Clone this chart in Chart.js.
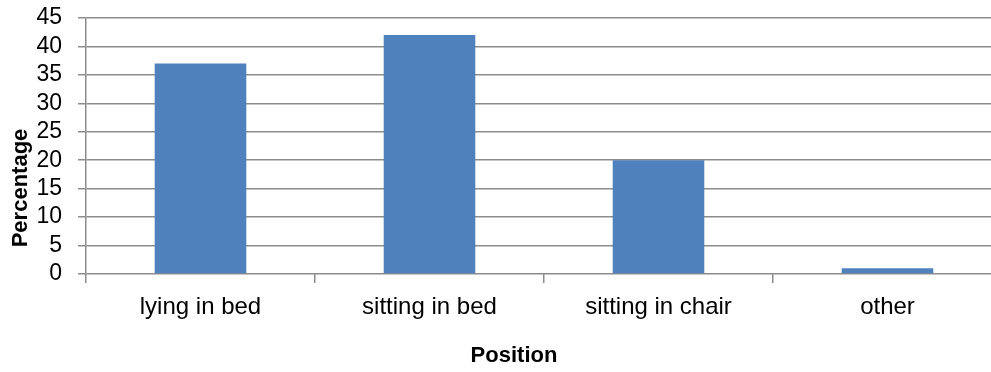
<!DOCTYPE html>
<html>
<head>
<meta charset="utf-8">
<script src="https://cdn.jsdelivr.net/npm/chart.js@4/dist/chart.umd.min.js"></script>
<style>
  html, body { margin: 0; padding: 0; overflow: hidden; background: #fff; }
  #wrap { width: 1002px; height: 372px; }
</style>
</head>
<body>
<div id="wrap"><canvas id="c" width="1002" height="372"></canvas></div>
<script>
// Share of observations by patient position
const categories = ['lying in bed', 'sitting in bed', 'sitting in chair', 'other'];
const percentages = [37, 42, 20, 1];
const yTicks = [0, 5, 10, 15, 20, 25, 30, 35, 40, 45];

const FONT = '"Liberation Sans Narrow", "Arial Narrow", "Liberation Sans", Arial, sans-serif';
const GRID = '#8c8c8c';

// Axis titles placed by hand so they sit where the layout wants them
const axisTitles = {
  id: 'axisTitles',
  afterDraw(chart) {
    const ctx = chart.ctx;
    ctx.save();
    ctx.fillStyle = '#000';
    ctx.font = 'bold 22px ' + FONT;
    ctx.textAlign = 'center';
    ctx.textBaseline = 'middle';
    ctx.fillText('Position', 514, 356);
    ctx.translate(21, 188);
    ctx.rotate(-Math.PI / 2);
    ctx.fillText('Percentage', 0, 0);
    ctx.restore();
  }
};

new Chart(document.getElementById('c'), {
  type: 'bar',
  data: {
    labels: categories,
    datasets: [{
      data: percentages,
      backgroundColor: '#4f81bd',
      borderWidth: 0,
      barPercentage: 0.4,
      categoryPercentage: 1.0
    }]
  },
  options: {
    responsive: false,
    animation: false,
    layout: { padding: { top: 18, right: 0, bottom: 0, left: 0 } },
    plugins: { legend: { display: false }, tooltip: { enabled: false } },
    scales: {
      x: {
        offset: true,
        grid: {
          offset: true,
          drawOnChartArea: false,
          drawTicks: true,
          tickLength: 9,
          color: GRID,
          lineWidth: 1.5
        },
        border: { display: false },
        ticks: {
          color: '#000',
          font: { family: FONT, size: 24 },
          padding: 10,
          maxRotation: 0
        },
        afterFit(scale) {
          scale.height = 98;
          scale.paddingLeft = 0;
          scale.paddingRight = 0;
        }
      },
      y: {
        min: 0,
        max: 45,
        afterBuildTicks(scale) { scale.ticks = yTicks.map(v => ({ value: v })); },
        grid: {
          color: GRID,
          lineWidth: 1.5,
          drawTicks: true,
          tickLength: 8
        },
        border: { display: true, color: GRID, width: 1.5 },
        ticks: {
          color: '#000',
          font: { family: FONT, size: 23 },
          padding: 16,
          autoSkip: false
        },
        afterFit(scale) {
          scale.width = 86;
          scale.paddingTop = 0;
          scale.paddingBottom = 0;
        }
      }
    }
  },
  plugins: [axisTitles]
});
</script>
</body>
</html>
